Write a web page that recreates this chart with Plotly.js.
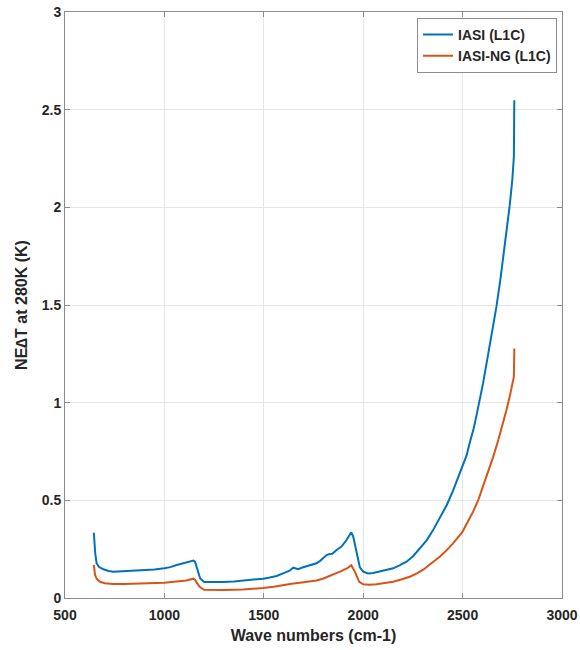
<!DOCTYPE html>
<html>
<head>
<meta charset="utf-8">
<script src="https://cdn.plot.ly/plotly-3.0.1.min.js"></script>
<style>
  html, body { margin: 0; padding: 0; background: #ffffff; }
  #chart { width: 580px; height: 650px; }
</style>
</head>
<body>
<div id="chart"></div>
<script>
// Radiometric noise (NEdT at 280 K) versus wave number for the two instruments
const iasiWavenumbers = [645, 648, 652, 659, 670, 693, 720, 743, 780, 820, 860, 900, 950, 1000, 1030, 1062, 1100, 1130, 1146, 1154, 1165, 1180, 1200, 1250, 1296, 1350, 1396, 1450, 1497, 1530, 1564, 1600, 1630, 1648, 1673, 1690, 1707, 1740, 1765, 1782, 1799, 1816, 1832, 1845, 1866, 1891, 1916, 1930, 1940, 1950, 1967, 1983, 2000, 2025, 2050, 2084, 2120, 2151, 2185, 2218, 2252, 2285, 2319, 2350, 2385, 2420, 2452, 2476, 2500, 2520, 2536, 2555, 2570, 2590, 2603, 2628, 2650, 2670, 2690, 2704, 2720, 2737, 2750, 2758, 2760];
const iasiNedt = [0.334, 0.28, 0.229, 0.178, 0.16, 0.147, 0.138, 0.135, 0.137, 0.136, 0.138, 0.142, 0.146, 0.152, 0.158, 0.169, 0.178, 0.188, 0.192, 0.186, 0.150, 0.100, 0.082, 0.081, 0.082, 0.085, 0.089, 0.093, 0.099, 0.105, 0.113, 0.127, 0.140, 0.155, 0.148, 0.155, 0.160, 0.168, 0.178, 0.189, 0.203, 0.220, 0.225, 0.226, 0.246, 0.263, 0.297, 0.322, 0.336, 0.314, 0.229, 0.157, 0.135, 0.126, 0.128, 0.135, 0.143, 0.152, 0.168, 0.186, 0.215, 0.255, 0.295, 0.345, 0.41, 0.475, 0.55, 0.61, 0.67, 0.73, 0.795, 0.865, 0.935, 1.03, 1.10, 1.245, 1.37, 1.49, 1.63, 1.74, 1.87, 2.01, 2.14, 2.26, 2.548];

const ngWavenumbers = [645, 648, 651, 660, 676, 700, 743, 800, 860, 920, 1000, 1062, 1110, 1146, 1154, 1165, 1180, 1200, 1250, 1300, 1396, 1450, 1497, 1550, 1597, 1640, 1681, 1720, 1765, 1800, 1832, 1860, 1883, 1916, 1940, 1958, 1980, 2000, 2030, 2067, 2110, 2151, 2190, 2235, 2270, 2302, 2340, 2385, 2420, 2452, 2500, 2525, 2553, 2580, 2603, 2630, 2653, 2680, 2704, 2720, 2737, 2750, 2758, 2760];
const ngNedt = [0.169, 0.14, 0.118, 0.098, 0.083, 0.076, 0.072, 0.072, 0.072, 0.075, 0.078, 0.083, 0.090, 0.099, 0.094, 0.075, 0.055, 0.042, 0.040, 0.041, 0.044, 0.047, 0.051, 0.058, 0.067, 0.073, 0.078, 0.083, 0.090, 0.100, 0.112, 0.125, 0.135, 0.150, 0.168, 0.135, 0.083, 0.070, 0.068, 0.070, 0.076, 0.083, 0.095, 0.109, 0.126, 0.145, 0.175, 0.211, 0.245, 0.280, 0.340, 0.386, 0.442, 0.505, 0.570, 0.645, 0.72, 0.81, 0.894, 0.96, 1.031, 1.09, 1.133, 1.277];

const seriesNames = ['IASI (L1C)', 'IASI-NG (L1C)'];
const xTickVals = [500, 1000, 1500, 2000, 2500, 3000];
const yTickVals = [0, 0.5, 1, 1.5, 2, 2.5, 3];
const yTickText = ['0', '0.5', '1', '1.5', '2', '2.5', '3'];

const FONT = 'Liberation Sans, Arial, Helvetica, sans-serif';
const textColor = '#262626';
const axisColor = '#8c8c8c';

const traces = [
  {
    x: iasiWavenumbers, y: iasiNedt, name: seriesNames[0],
    type: 'scatter', mode: 'lines',
    line: { color: '#0072BD', width: 2 }
  },
  {
    x: ngWavenumbers, y: ngNedt, name: seriesNames[1],
    type: 'scatter', mode: 'lines',
    line: { color: '#D95319', width: 2 }
  }
];

const layout = {
  width: 580, height: 650,
  margin: { l: 65, r: 18, t: 12, b: 52 },
  paper_bgcolor: '#ffffff', plot_bgcolor: '#ffffff',
  font: { family: FONT, color: textColor, size: 14, weight: 'bold' },
  showlegend: true,
  legend: {
    x: 0.99, y: 0.99, xanchor: 'right', yanchor: 'top',
    bgcolor: '#ffffff', bordercolor: axisColor, borderwidth: 1,
    font: { family: FONT, size: 14, color: textColor, weight: 'bold' },
    tracegroupgap: 0
  },
  xaxis: {
    range: [500, 3000], tickvals: xTickVals,
    showline: true, mirror: 'ticks', linecolor: axisColor, linewidth: 1,
    ticks: 'inside', ticklen: 5, tickcolor: axisColor,
    ticklabelstandoff: 4,
    showgrid: true, gridcolor: '#e6e6e6', gridwidth: 1, zeroline: false,
    tickfont: { family: FONT, size: 14, color: textColor, weight: 'bold' },
    title: { text: 'Wave numbers (cm-1)', standoff: 8,
             font: { family: FONT, size: 16, color: textColor, weight: 'bold' } },
    automargin: false
  },
  yaxis: {
    range: [0, 3], tickvals: yTickVals, ticktext: yTickText,
    showline: true, mirror: 'ticks', linecolor: axisColor, linewidth: 1,
    ticks: 'inside', ticklen: 5, tickcolor: axisColor,
    showgrid: true, gridcolor: '#e6e6e6', gridwidth: 1, zeroline: false,
    tickfont: { family: FONT, size: 14, color: textColor, weight: 'bold' },
    title: { text: 'NE\u2206T at 280K (K)', standoff: 10,
             font: { family: FONT, size: 16, color: textColor, weight: 'bold' } },
    automargin: false
  }
};

Plotly.newPlot('chart', traces, layout, { staticPlot: true, displayModeBar: false });
</script>
</body>
</html>
